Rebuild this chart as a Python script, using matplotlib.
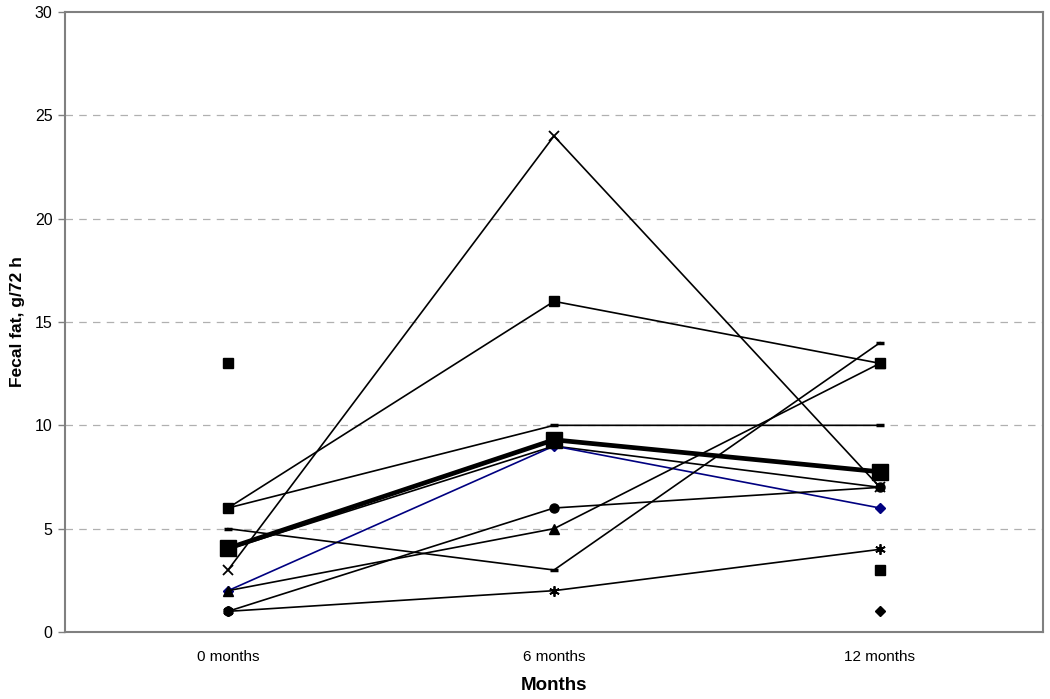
import numpy as np
import matplotlib
matplotlib.use('Agg')
import matplotlib.pyplot as plt

plt.rcParams['font.family'] = ['Liberation Sans', 'DejaVu Sans']

meses = ['0 months', '6 months', '12 months']

# pacientes (g/72 h)
pac_x = [3, 24, 7]
pac_cuadrado = [6, 16, 13]
pac_guion_a = [6, 10, 10]
pac_guion_b = [5, 3, 14]
pac_azul = [2, 9, 6]
pac_triangulo = [2, 5, 13]
pac_circulo = [1, 6, 7]
pac_asterisco = [1, 2, 4]
pac_sin_marca = [4, 9, 7]
promedio = [4.05, 9.3, 7.75]

# puntos sueltos (pacientes con datos faltantes)
suelto_cuadrado_0 = [13, np.nan, np.nan]
suelto_cuadrado_12 = [np.nan, np.nan, 3]
suelto_rombo_12 = [np.nan, np.nan, 1]

gris = '#808080'
x = np.arange(len(meses))

fig = plt.figure(figsize=(10.5, 6.99), dpi=100)
ax = fig.add_axes([65/1050, 1 - 632/699, (1043 - 65)/1050, (632 - 12)/699])

lw = 1.2
ax.plot(x, pac_sin_marca, color='black', lw=lw, marker='None')
ax.plot(x, pac_azul, color='#000080', lw=lw, marker='D', ms=5, mfc='#000080', mec='#000080')
ax.plot(x, pac_guion_a, color='black', lw=lw, marker='_', ms=6, mew=2.5)
ax.plot(x, pac_guion_b, color='black', lw=lw, marker='_', ms=6, mew=2.5)
ax.plot(x, pac_triangulo, color='black', lw=lw, marker='^', ms=7)
ax.plot(x, pac_cuadrado, color='black', lw=lw, marker='s', ms=6.5)
ax.plot(x, pac_circulo, color='black', lw=lw, marker='o', ms=6.5)
ax.plot(x, pac_asterisco, color='black', lw=lw, marker=(6, 2, 0), ms=7.5, mew=1.3)
ax.plot(x, pac_x, color='black', lw=lw, marker='x', ms=7.5, mew=1.3)
ax.plot(x, promedio, color='black', lw=3.4, marker='s', ms=12)

ax.plot(x, suelto_cuadrado_0, color='black', ls='None', marker='s', ms=6.5)
ax.plot(x, suelto_cuadrado_12, color='black', ls='None', marker='s', ms=6.5)
ax.plot(x, suelto_rombo_12, color='black', ls='None', marker='D', ms=5)

ax.set_xlim(-0.5, 2.5)
ax.set_ylim(0, 30)
ax.set_yticks(np.arange(0, 31, 5))
ax.set_xticks(x)
ax.set_xticklabels(meses, fontsize=11)
ax.tick_params(axis='y', labelsize=11.5, color=gris, length=5, width=1, pad=4)
ax.tick_params(axis='x', length=0, pad=13)

for v in range(5, 30, 5):
    ax.axhline(v, color='#b0b0b0', lw=0.9, ls=(0, (6, 5)), zorder=0)

for lado in ['left', 'right', 'top', 'bottom']:
    ax.spines[lado].set_color(gris)
    ax.spines[lado].set_linewidth(1.5)

ax.set_xlabel('Months', fontsize=13.5, fontweight='bold', labelpad=9)
ax.set_ylabel('Fecal fat, g/72 h', fontsize=12.5, fontweight='bold', labelpad=7)

fig.savefig('out.png', dpi=100)
